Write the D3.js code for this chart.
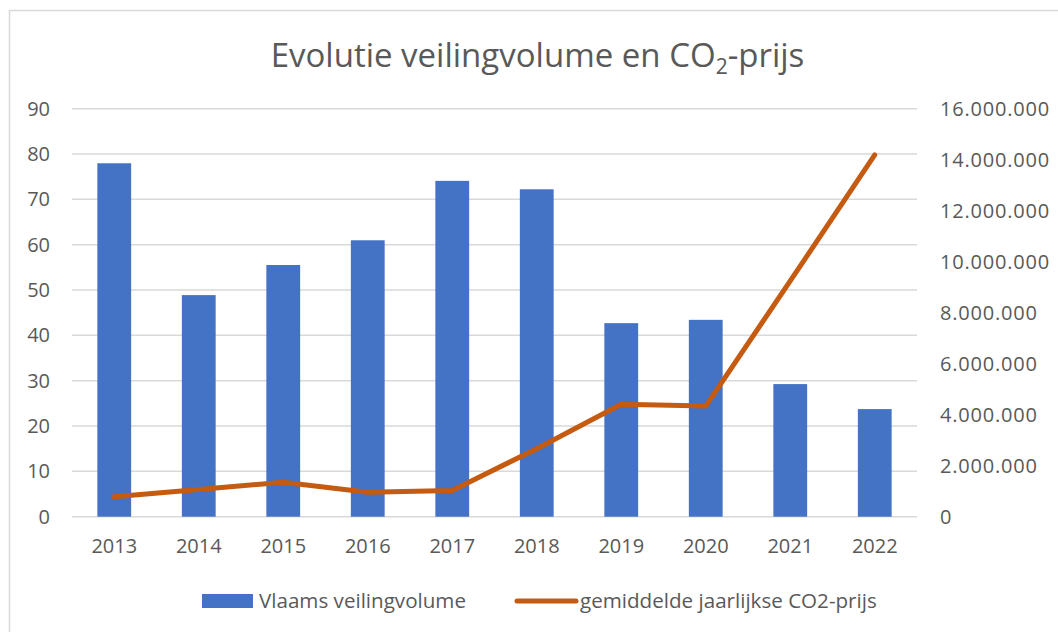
<!DOCTYPE html>
<html>
<head>
<meta charset="utf-8">
<script src="https://cdn.jsdelivr.net/npm/d3@7"></script>
<style>
  html, body { margin: 0; padding: 0; background: #fff; }
  svg { display: block; font-family: "Open Sans", sans-serif; }
</style>
</head>
<body>
<div id="chart"></div>
<script>
// Data
const years = ['2013', '2014', '2015', '2016', '2017', '2018', '2019', '2020', '2021', '2022'];
// Vlaams veilingvolume (right axis)
const volumes = [13860000, 8690000, 9870000, 10840000, 13170000, 12840000, 7590000, 7720000, 5200000, 4220000];
// gemiddelde jaarlijkse CO2-prijs (left axis)
const prices = [4.4, 6.0, 7.6, 5.4, 5.8, 15.0, 24.8, 24.4, 52.0, 79.8];
const leftTicks = [0, 10, 20, 30, 40, 50, 60, 70, 80, 90];
const rightTicks = [0, 2000000, 4000000, 6000000, 8000000, 10000000, 12000000, 14000000, 16000000];

const width = 1058, height = 632;
const margin = { top: 108.7, right: 141, bottom: 115.3, left: 72 };

const textColor = '#595959';
const gridColor = '#d9d9d9';
const barColor = '#4472c4';
const lineColor = '#c55a11';

const svg = d3.select('#chart')
  .append('svg')
  .attr('width', width)
  .attr('height', height);

// Chart border
svg.append('rect')
  .attr('x', 9.5)
  .attr('y', 10.5)
  .attr('width', width + 20)
  .attr('height', height + 20)
  .attr('fill', 'none')
  .attr('stroke', gridColor)
  .attr('stroke-width', 1.5);

// Scales
const x = d3.scaleBand()
  .domain(years)
  .range([margin.left, width - margin.right])
  .paddingInner(0.6)
  .paddingOuter(0.3);

const yLeft = d3.scaleLinear()
  .domain([0, 90])
  .range([height - margin.bottom, margin.top]);

const yRight = d3.scaleLinear()
  .domain([0, 16000000])
  .range([height - margin.bottom, margin.top]);

const nl = d3.formatLocale({ decimal: ',', thousands: '.', grouping: [3], currency: ['€', ''] });
const fmtRight = nl.format(',d');

// Gridlines (from left axis)
svg.append('g')
  .attr('class', 'grid')
  .selectAll('line')
  .data(leftTicks)
  .enter().append('line')
  .attr('x1', margin.left)
  .attr('x2', width - margin.right)
  .attr('y1', d => yLeft(d))
  .attr('y2', d => yLeft(d))
  .attr('stroke', gridColor)
  .attr('stroke-width', 1.5);

// Left axis
const leftAxis = svg.append('g')
  .attr('transform', `translate(${margin.left},0)`)
  .call(d3.axisLeft(yLeft).tickValues(leftTicks).tickSize(0).tickPadding(22));
leftAxis.select('.domain').remove();
leftAxis.selectAll('text')
  .attr('fill', textColor)
  .attr('font-size', 20)
  .attr('font-family', '"Open Sans", sans-serif');

// Right axis
const rightAxis = svg.append('g')
  .attr('transform', `translate(${width - margin.right},0)`)
  .call(d3.axisRight(yRight).tickValues(rightTicks).tickFormat(fmtRight).tickSize(0).tickPadding(23));
rightAxis.select('.domain').remove();
rightAxis.selectAll('text')
  .attr('fill', textColor)
  .attr('font-size', 20)
  .attr('letter-spacing', 0.8)
  .attr('font-family', '"Open Sans", sans-serif');

// Bottom axis
const bottomAxis = svg.append('g')
  .attr('transform', `translate(0,${height - margin.bottom})`)
  .call(d3.axisBottom(x).tickSize(0).tickPadding(22));
bottomAxis.select('.domain').remove();
bottomAxis.selectAll('text')
  .attr('fill', textColor)
  .attr('font-size', 20)
  .attr('font-family', '"Open Sans", sans-serif');

// Bars
svg.append('g')
  .selectAll('rect')
  .data(years.map((y, i) => ({ year: y, value: volumes[i] })))
  .enter().append('rect')
  .attr('x', d => x(d.year))
  .attr('y', d => yRight(d.value))
  .attr('width', x.bandwidth())
  .attr('height', d => yRight(0) - yRight(d.value))
  .attr('fill', barColor);

// Line
const line = d3.line()
  .x(d => x(d.year) + x.bandwidth() / 2)
  .y(d => yLeft(d.value));

svg.append('path')
  .datum(years.map((y, i) => ({ year: y, value: prices[i] })))
  .attr('d', line)
  .attr('fill', 'none')
  .attr('stroke', lineColor)
  .attr('stroke-width', 5)
  .attr('stroke-linejoin', 'round')
  .attr('stroke-linecap', 'round');

// Title
const title = svg.append('text')
  .attr('x', 537.5)
  .attr('y', 67)
  .attr('text-anchor', 'middle')
  .attr('fill', textColor)
  .attr('font-size', 33)
  .attr('font-family', '"Open Sans", sans-serif');
title.append('tspan').text('Evolutie veilingvolume en CO');
title.append('tspan').attr('font-size', 21).attr('dy', 7).text('2');
title.append('tspan').attr('dy', -7).text('-prijs');

// Legend
const legend = svg.append('g').attr('class', 'legend');
legend.append('rect')
  .attr('x', 202)
  .attr('y', 594)
  .attr('width', 51)
  .attr('height', 14)
  .attr('fill', barColor);
legend.append('text')
  .attr('x', 259)
  .attr('y', 608)
  .attr('fill', textColor)
  .attr('font-size', 20.6)
  .text('Vlaams veilingvolume');
legend.append('line')
  .attr('x1', 517)
  .attr('x2', 576)
  .attr('y1', 601)
  .attr('y2', 601)
  .attr('stroke', lineColor)
  .attr('stroke-width', 5)
  .attr('stroke-linecap', 'round');
legend.append('text')
  .attr('x', 580)
  .attr('y', 608)
  .attr('fill', textColor)
  .attr('font-size', 20.6)
  .text('gemiddelde jaarlijkse CO2-prijs');
</script>
</body>
</html>
